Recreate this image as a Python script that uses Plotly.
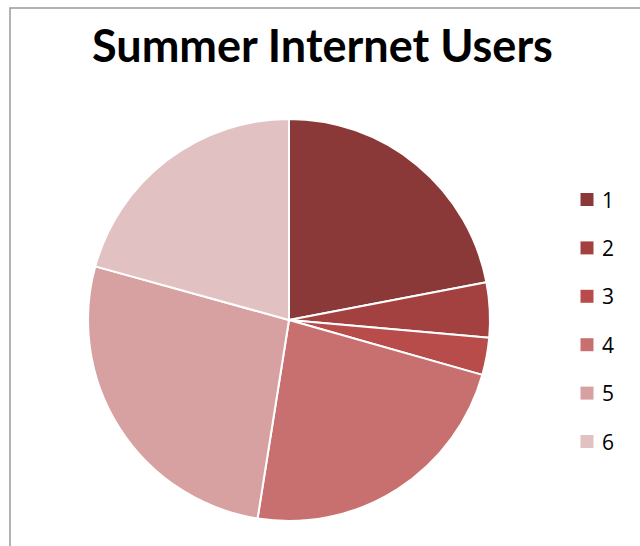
import plotly.graph_objects as go

# Share of summer internet users by group
labels = ["1", "2", "3", "4", "5", "6"]
values = [22.0, 4.4, 3.0, 23.1, 26.8, 20.7]
colors = ["#8B3838", "#A34141", "#B84C4A", "#C8706F", "#D8A1A1", "#E2C1C3"]
title_text = "Summer Internet Users"

W, H = 640, 546


def px(x):
    return x / W


def py(y):
    return 1 - y / H


fig = go.Figure(
    go.Pie(
        labels=labels,
        values=values,
        sort=False,
        direction="clockwise",
        rotation=0,
        marker=dict(colors=colors, line=dict(color="white", width=2)),
        textinfo="none",
        showlegend=False,
        domain=dict(x=[px(88), px(490)], y=[py(521), py(119)]),
    )
)

shapes = [
    # chart-area frame (open to the right and bottom of the page)
    dict(type="rect", xref="paper", yref="paper",
         x0=px(10), x1=px(W + 20), y0=py(H + 20), y1=py(8),
         line=dict(color="#9a9a9a", width=1.5), fillcolor="rgba(0,0,0,0)"),
]
annotations = [
    dict(text="<b>" + title_text + "</b>", x=px(322), y=py(45),
         xref="paper", yref="paper", showarrow=False,
         xanchor="center", yanchor="middle",
         font=dict(family="Lato", size=45, color="black")),
]

# legend: swatch + label per slice
row0, gap, sw = 199.5, 48.4, 13
for i, (lab, col) in enumerate(zip(labels, colors)):
    cy = row0 + i * gap
    shapes.append(dict(type="rect", xref="paper", yref="paper",
                       x0=px(580.5), x1=px(580.5 + sw),
                       y0=py(cy + sw / 2), y1=py(cy - sw / 2),
                       line=dict(width=0), fillcolor=col))
    annotations.append(dict(text=lab, x=px(600), y=py(cy), xref="paper", yref="paper",
                            showarrow=False, xanchor="left", yanchor="middle",
                            font=dict(family="Open Sans", size=21, color="black")))

fig.update_layout(
    width=W, height=H,
    margin=dict(l=0, r=0, t=0, b=0),
    paper_bgcolor="white",
    shapes=shapes,
    annotations=annotations,
)

fig.write_html("out.html")
